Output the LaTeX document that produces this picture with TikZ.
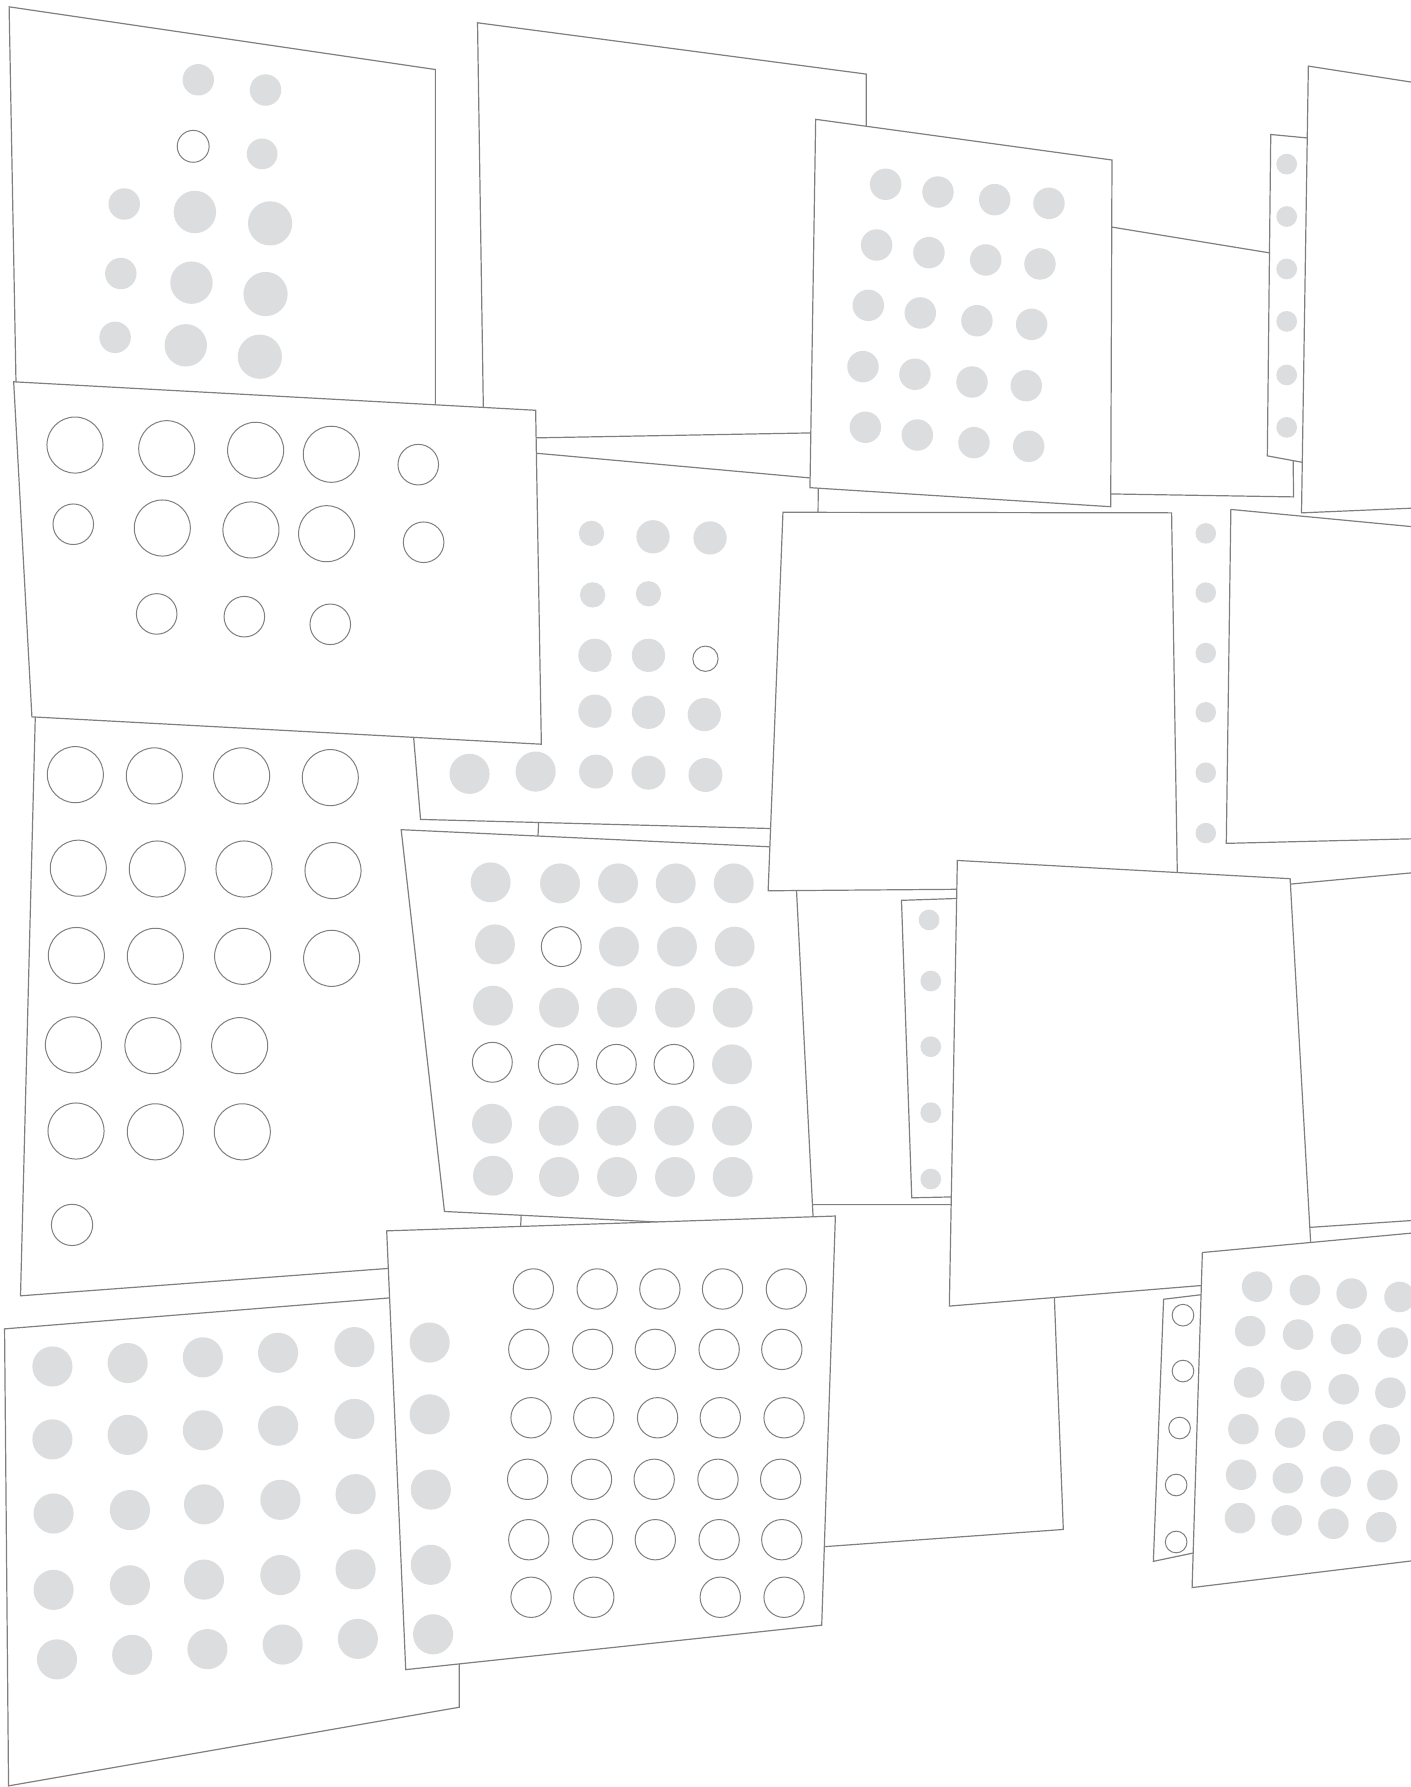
\documentclass[tikz,border=0pt]{standalone}
\usepackage{xcolor}
\usepackage{tikz}
\definecolor{sheetline}{RGB}{128,128,128}
\definecolor{dotgray}{RGB}{220,221,223}
\tikzset{
  sheet/.style={draw=sheetline, fill=white, line width=0.6pt, line join=miter},
  dotfill/.style={fill=dotgray},
  dotring/.style={draw=sheetline, fill=white, line width=0.5pt},
}

\begin{document}
\begin{tikzpicture}[x=0.02cm, y=-0.02cm]

\useasboundingbox (0,0) rectangle (1238,1568);
\clip (0,0) rectangle (1238,1568);
\fill[white] (0,0) rectangle (1238,1568);

% Back row
\draw[sheet] (8,6) -- (382,61) -- (382,370) -- (14.2,345) -- cycle;
\foreach \x/\y/\r in {174/70/13.8, 233/79/13.8, 230/135/13.5, 109/179/13.8,
  171/186/18.6, 237/196/19.4, 106/240/13.8, 168/248/18.6, 233/258/19.4,
  101/296/13.8, 163/303/18.6, 228/313/19.4}
  \fill[dotfill] (\x,\y) circle[radius=\r];
\draw[dotring] (169.5,128.4) circle[radius=14];

\draw[sheet] (419,20) -- (760,65) -- (760,379) -- (424.5,385) -- cycle;
\draw[sheet] (820,173.8) -- (1133,225) -- (1135,436) -- (820,430.9) -- cycle;

% Narrow strip
\draw[sheet] (1115,118) -- (1155,121.8) -- (1150,407) -- (1112,400) -- cycle;
\foreach \y in {144,190,236,282,329,375}
  \fill[dotfill] (1129,\y) circle[radius=9.1];

\draw[sheet] (1148,58) -- (1260,75.4) -- (1260,445) -- (1142,450) -- cycle;

% Left card with rings
\draw[sheet] (31.7,600) -- (478,600) -- (455.6,1104.4) -- (18,1137) -- cycle;
\foreach \x/\y in {66.1/679.7, 135.4/680.8, 212/680.8, 289.8/682.3,
  68.7/761.8, 138/762.5, 214.1/762.5, 292.2/763.9,
  67/838.4, 136.3/839.1, 212.9/839.1, 291/840.9,
  64.4/916.8, 134.2/917.5, 210.3/917.5,
  66.7/992.4, 136.3/993.1, 212.6/993.1}
  \draw[dotring] (\x,\y) circle[radius=24.6];
\draw[dotring] (63.2,1074.8) circle[radius=18.1];

% Hidden card under the centre
\draw[sheet] (600,1057) -- (922,1057) -- (933,1342) -- (600,1366) -- cycle;

\draw[sheet] (341,386) -- (718,420) -- (716,728) -- (369,719) -- cycle;
\foreach \x/\y/\r in {519/468/11.1, 573/471/14.6, 623/472/14.6,
  520/522/11.1, 569/521/11.1,
  522/575/14.6, 569/575/14.6,
  522/624/14.6, 569/625/14.6, 618/627/14.6,
  412/679/17.6, 470/677/17.6, 523/677/14.9, 569/678/14.9, 619/680/14.9}
  \fill[dotfill] (\x,\y) circle[radius=\r];
\draw[dotring] (619,578) circle[radius=11.1];

\draw[sheet] (12,335) -- (470,360) -- (475,653) -- (28,629) -- cycle;
\foreach \x/\y/\r in {65.8/390.5/24.6, 146.3/393.7/24.6, 224.3/395.1/24.6,
  290.7/398.6/24.6, 367/407.7/17.8,
  64.3/460/17.8, 142.4/463.3/24.6, 220.2/465/24.6, 286.6/468.3/24.6,
  371.7/475.8/17.8,
  137.5/538.7/17.8, 214.4/541.1/17.8, 289.8/547.8/17.8}
  \draw[dotring] (\x,\y) circle[radius=\r];

\draw[sheet] (715.7,104.7) -- (975.7,140.4) -- (974.6,444.6) -- (710.7,427.9) -- cycle;
\foreach \x/\y in {777.1/161.7, 823/168.5, 872.8/175.2, 920.4/178.4,
  769.2/215, 815.1/221.7, 864.9/228.1, 912.5/231.6,
  761.9/267.9, 807.5/274.6, 857.2/281.4, 905.2/284.6,
  757.2/321.7, 802.8/328.4, 852.9/335.2, 900.5/338.4,
  759.3/374.9, 804.9/381.7, 854.6/388.4, 902.6/391.6}
  \fill[dotfill] (\x,\y) circle[radius=13.8];

% Centre card
\draw[sheet] (352,728) -- (697,744) -- (714,1079) -- (390,1063) -- cycle;
\foreach \x/\y in {430.5/774.2, 491.4/775.1, 542.3/775.1, 592.9/775.1, 643.8/775.1,
  434.3/828.6, 543.1/830.6, 594/830.6, 644.6/830.6,
  432.6/882.4, 490.5/884.2, 541.4/884.2, 592.3/884.2, 642.9/884.2,
  642.3/933.9,
  431.7/986, 490.2/987.7, 540.8/987.7, 591.4/987.7, 642.3/987.7,
  432.6/1031.6, 490.5/1032.7, 541.4/1032.7, 592.3/1032.7, 642.9/1032.7}
  \fill[dotfill] (\x,\y) circle[radius=17.5];
\foreach \x/\y in {492.5/830.6, 432/932.1, 489.9/933.9, 540.8/933.9, 591.4/933.9}
  \draw[dotring] (\x,\y) circle[radius=17.5];

\draw[sheet] (687,449.5) -- (1028,450) -- (1033.2,778.8) -- (674,781.6) -- cycle;

% Loose column
\foreach \y in {468,520,573,625,678,731}
  \fill[dotfill] (1058,\y) circle[radius=9];

\draw[sheet] (1080,447) -- (1260,464.1) -- (1260,735.5) -- (1076,740) -- cycle;

\draw[sheet] (791,790) -- (850,788) -- (846,1050) -- (800,1051) -- cycle;
\foreach \x/\y in {815.2/807.2, 816.7/860.8, 816.7/918.4, 816.7/976.3, 816.7/1034.5}
  \fill[dotfill] (\x,\y) circle[radius=9.1];

\draw[sheet] (1000,788) -- (1260,763.9) -- (1260,1069.5) -- (1000,1087) -- cycle;
\draw[sheet] (840,755) -- (1132,771) -- (1151.7,1120) -- (833,1146) -- cycle;

% Front row
\draw[sheet] (4,1166) -- (402,1134) -- (403,1498) -- (7.5,1567) -- cycle;
\foreach \x/\y in {46/1199, 112/1196, 178/1191, 244/1187, 311/1182,
  46/1263, 112/1259, 178/1255, 244/1251, 311/1245,
  47/1328, 114/1325, 179/1320, 246/1316, 312/1311,
  47/1395, 114/1391, 179/1386, 246/1382, 312/1377,
  50/1456, 116/1452, 182/1447, 248/1443, 314/1438}
  \fill[dotfill] (\x,\y) circle[radius=17.6];

\draw[sheet] (339.3,1080) -- (733,1067) -- (721,1426) -- (356,1465) -- cycle;
\foreach \x/\y in {377/1178, 377/1241, 378/1307, 378/1373, 380/1434}
  \fill[dotfill] (\x,\y) circle[radius=17.6];
\foreach \x/\y in {468/1131, 524/1131, 579/1131, 634/1131, 690/1131,
  464/1184, 520/1184, 575/1184, 631/1184, 686/1184,
  466/1244, 521/1244, 577/1244, 632/1244, 688/1244,
  463/1298, 519/1298, 574/1298, 630/1298, 685/1298,
  464/1351, 520/1351, 575/1351, 631/1351, 686/1351,
  466/1401.5, 521/1401.5, 632/1401.5, 688/1401.5}
  \draw[dotring] (\x,\y) circle[radius=17.7];

\draw[sheet] (1021,1140) -- (1060,1135.3) -- (1055,1361) -- (1012,1370) -- cycle;
\foreach \x/\y in {1038/1154, 1038/1203, 1035/1253, 1032/1303, 1032/1353}
  \draw[dotring] (\x,\y) circle[radius=9.5];

\draw[sheet] (1055,1099) -- (1260,1080) -- (1260,1367) -- (1046,1393) -- cycle;
\foreach \x/\y in {1103/1129, 1145/1132, 1186/1135, 1228/1138,
  1097/1168, 1139/1171, 1181/1175, 1222/1178,
  1096/1213, 1137/1216, 1179/1219, 1220/1222,
  1091/1254, 1132/1257, 1174/1260, 1215/1263,
  1089/1294, 1130/1297, 1172/1300, 1213/1303,
  1088/1332, 1129/1334, 1170/1337, 1212/1340}
  \fill[dotfill] (\x,\y) circle[radius=13.4];

\end{tikzpicture}
\end{document}
